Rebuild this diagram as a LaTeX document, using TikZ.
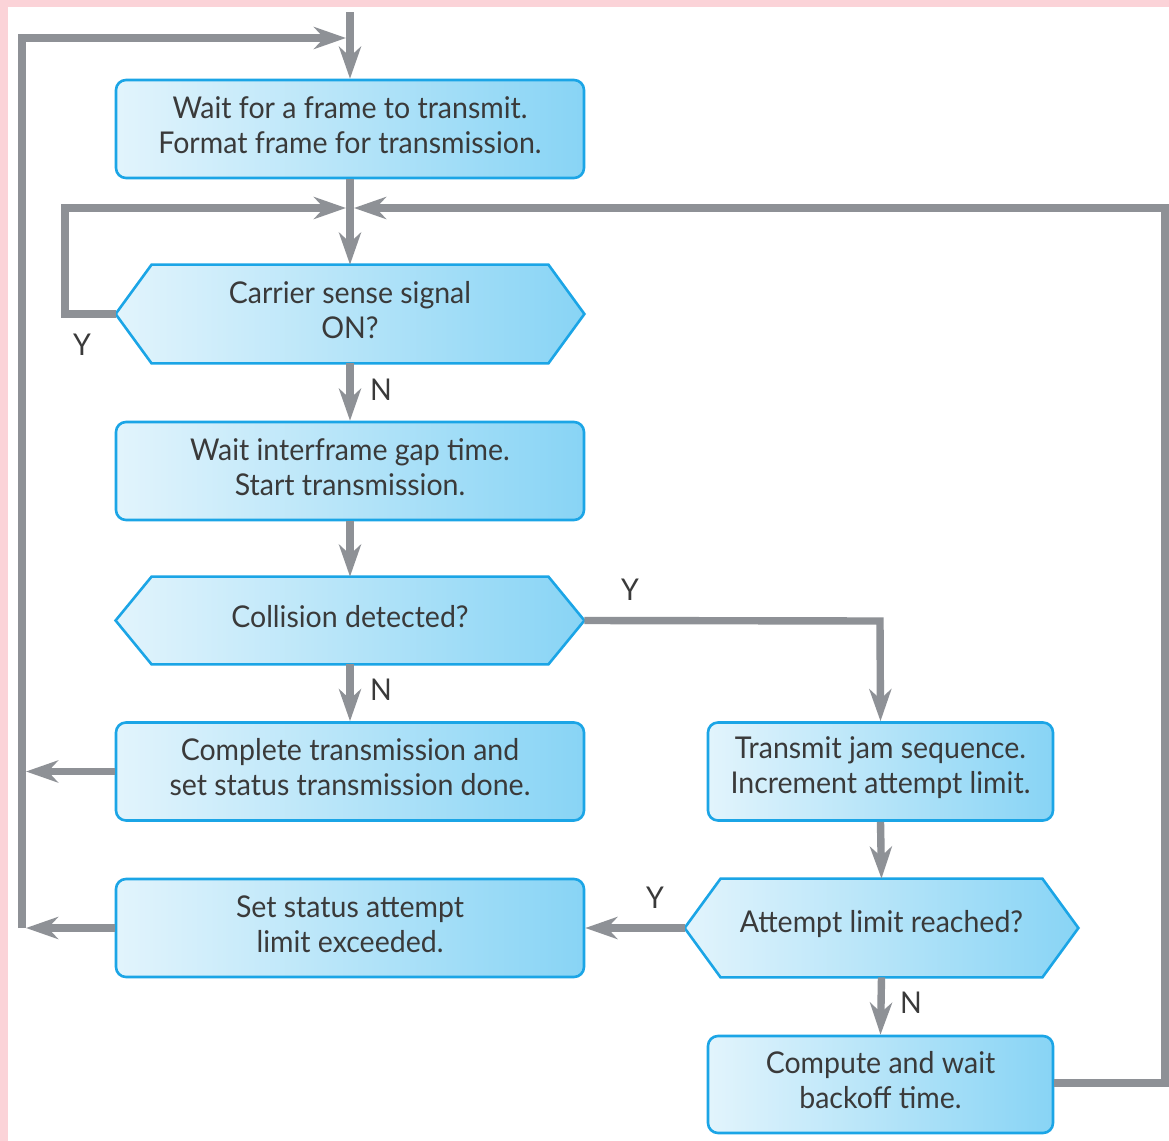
\documentclass[tikz,border=0pt]{standalone}
\usepackage{fontspec}
\setmainfont{Lato}[FakeStretch=0.95]
\usetikzlibrary{arrows.meta,calc,backgrounds}
\definecolor{flow}{HTML}{8E9196}
\definecolor{boxl}{HTML}{E2F4FC}
\definecolor{boxr}{HTML}{88D4F5}
\definecolor{edge}{HTML}{1BA5E6}
\definecolor{ink}{HTML}{3A3A3A}
\definecolor{pinkbg}{HTML}{FBD3D8}
\begin{document}
\begin{tikzpicture}[x=0.5pt,y=-0.5pt,
  txt/.style={text=ink, align=center, font=\fontsize{15}{17.5}\selectfont, inner sep=0pt},
  t/.style={label={[txt,yshift=2pt]center:#1}},
  box/.style={rectangle, rounded corners=5pt, draw=edge, line width=1.3pt,
    left color=boxl, right color=boxr, inner sep=0pt,
    minimum width=234pt, minimum height=49pt},
  smallbox/.style={box, minimum width=172.5pt},
  hexnode/.style={rectangle, inner sep=0pt, minimum width=234pt, minimum height=49pt},
  hexfill/.style={draw=edge, line width=1.3pt, left color=boxl, right color=boxr},
  lbl/.style={text=ink, font=\fontsize{15}{17.5}\selectfont, inner sep=0pt},
  flowline/.style={draw=flow, line width=3.7pt},
  arr/.style={flowline, -{Stealth[length=16pt,width=11pt,inset=5pt]}}
]
\useasboundingbox (0,0) rectangle (1169,1141);

% nodes
\node[box, t={Wait for a frame to transmit.\\Format frame for transmission.}] (b1) at (350,129) {};
\node[hexnode, t={Carrier sense signal\\ON?}] (h1) at (350,314) {};
\node[box, t={Wait interframe gap time.\\Start transmission.}] (b3) at (350,471) {};
\node[hexnode, minimum height=43.5pt, t={Collision detected?}] (h2) at (350,620.5) {};
\node[box, t={Complete transmission and\\set status transmission done.}] (b5) at (350,771.5) {};
\node[smallbox, t={Transmit jam sequence.\\Increment attempt limit.}] (b6) at (880.5,771.5) {};
\node[hexnode, minimum width=196.5pt, t={Attempt limit reached?}] (h3) at (881.5,928) {};
\node[box, t={Set status attempt\\limit exceeded.}] (b7) at (350,928) {};
\node[smallbox, minimum height=48.5pt, t={Compute and wait\\backoff time.}] (b8) at (880.5,1084.5) {};

\begin{scope}[on background layer]
\fill[pinkbg] (0,0) rectangle (1169,1141);
\fill[white] (8,7) rectangle (1169,1141);
\foreach \h in {h1,h2,h3}{
  \path[hexfill] (\h.west) -- ($(\h.north west)+(36,0)$) -- ($(\h.north east)+(-36,0)$)
    -- (\h.east) -- ($(\h.south east)+(-36,0)$) -- ($(\h.south west)+(36,0)$) -- cycle;
}
\end{scope}

% coordinates
\coordinate (top) at (350,12);
\coordinate (j1) at (350,38);
\coordinate (j2) at (350,208);
\coordinate (ltop) at (22,38);
\coordinate (lbot) at (22,928);
\coordinate (lcorner) at (65,208);
\coordinate (rcorner) at (1165,208);
\coordinate (rbot) at (1165,1083);
\coordinate (ccorner) at (880,621);

% connectors
\draw[arr] (top) -- (b1.north);
\draw[flowline] (b1.south) -- (j2);
\draw[arr] (j2) -- (h1.north);
\draw[arr] (lbot) -- (ltop) -- ($(j1)+(-4,0)$);
\draw[arr] (h1.west) -- (65,314) -- (lcorner) -- ($(j2)+(-4,0)$);
\draw[arr] (b8.east |- rbot) -- (rbot) -- (rcorner) -- ($(j2)+(4,0)$);
\draw[arr] (h1.south) -- (b3.north);
\draw[arr] (b3.south) -- (h2.north);
\draw[arr] (h2.south) -- (b5.north);
\draw[arr] (h2.east) -- (ccorner) -- (b6.north);
\draw[arr] (b5.west) -- (26,771.5);
\draw[arr] (b7.west) -- (26,928);
\draw[arr] (b6.south) -- (h3.north);
\draw[arr] (h3.west) -- (b7.east);
\draw[arr] (h3.south) -- (b8.north);

% labels
\node[lbl] (y1) at (82,345) {Y};
\node[lbl] (n1) at (381,390) {N};
\node[lbl] (y2) at (630,590) {Y};
\node[lbl] (n2) at (381,690) {N};
\node[lbl] (y3) at (655,898) {Y};
\node[lbl] (n3) at (911,1003) {N};
\end{tikzpicture}
\end{document}
